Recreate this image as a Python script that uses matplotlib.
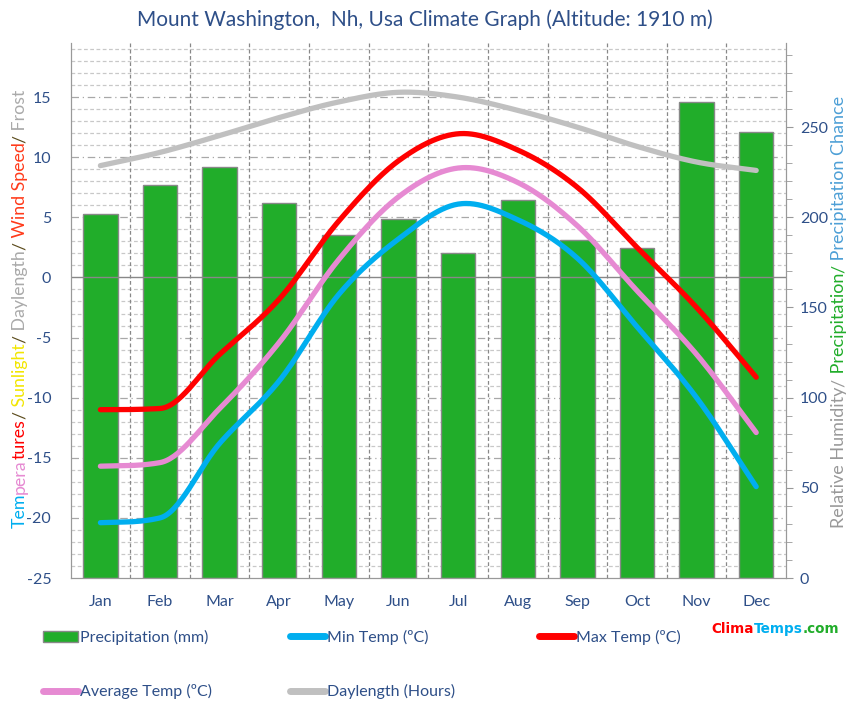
import numpy as np
import matplotlib
matplotlib.use("Agg")
import matplotlib.pyplot as plt
from matplotlib.lines import Line2D
from matplotlib.patches import Patch
from matplotlib.transforms import IdentityTransform

plt.rcParams['font.family'] = ['Lato', 'DejaVu Sans']

months = ["Jan", "Feb", "Mar", "Apr", "May", "Jun", "Jul", "Aug", "Sep", "Oct", "Nov", "Dec"]
precip_mm = [201.6, 217.8, 227.7, 207.7, 190.3, 198.8, 180.0, 209.5, 187.7, 182.8, 263.7, 247.1]
min_temp = [-20.4, -20.0, -13.8, -8.6, -1.4, 3.2, 6.1, 4.8, 1.6, -4.1, -10.0, -17.4]
max_temp = [-11.0, -10.9, -6.4, -1.8, 4.7, 9.7, 11.95, 10.6, 7.5, 2.5, -2.5, -8.3]
avg_temp = [-15.7, -15.4, -10.9, -5.4, 1.5, 6.7, 9.1, 7.9, 4.3, -1.1, -6.4, -12.9]
daylength = [9.3, 10.4, 11.8, 13.3, 14.6, 15.4, 15.0, 13.9, 12.5, 10.9, 9.6, 8.9]

TXT = "#2E4F88"
title = "Mount Washington,  Nh, Usa Climate Graph (Altitude: 1910 m)"

LEFT_MIN, LEFT_MAX = -25, 19.5
RATIO = 20 / 3  # right units per left unit


def to_right(v):
    return (v - LEFT_MIN) * RATIO


def smooth(y, n=30):
    """Cubic Hermite through the points: Catmull-Rom tangents, limited on monotone segments."""
    y = np.asarray(y, float)
    d = np.diff(y)
    m = np.zeros_like(y)
    m[0], m[-1] = d[0], d[-1]
    m[1:-1] = (y[2:] - y[:-2]) / 2.0
    for k in range(len(d)):
        if d[k] == 0:
            m[k] = m[k + 1] = 0.0
            continue
        a, b = m[k] / d[k], m[k + 1] / d[k]
        if a >= 0 and b >= 0 and a * a + b * b > 9:
            tau = 3.0 / np.hypot(a, b)
            m[k], m[k + 1] = tau * a * d[k], tau * b * d[k]
    xs, ys = [], []
    t = np.linspace(0, 1, n, endpoint=False)
    h00 = 2 * t ** 3 - 3 * t ** 2 + 1
    h10 = t ** 3 - 2 * t ** 2 + t
    h01 = -2 * t ** 3 + 3 * t ** 2
    h11 = t ** 3 - t ** 2
    for i in range(len(y) - 1):
        ys.append(h00 * y[i] + h10 * m[i] + h01 * y[i + 1] + h11 * m[i + 1])
        xs.append(i + t)
    xs.append([len(y) - 1])
    ys.append([y[-1]])
    return np.concatenate(xs), np.concatenate(ys)


fig = plt.figure(figsize=(8.51, 7.19), dpi=100)
W, H = 851, 719
ax2 = fig.add_axes([70.6 / W, 1 - 578 / H, (786 - 70.6) / W, (578 - 43) / H])
ax = ax2.twinx()  # left-scale axis drawn on top
ax.yaxis.tick_left()
ax.yaxis.set_label_position("left")
ax2.yaxis.tick_right()

x = np.arange(12)
ax.set_xlim(-0.5, 11.5)
ax2.set_xlim(-0.5, 11.5)
ax.set_ylim(LEFT_MIN, LEFT_MAX)
ax2.set_ylim(0, to_right(LEFT_MAX))

# grid (behind bars, on the bar axis, positioned on the left scale)
for v in np.arange(-24, 20, 1):
    if v % 5 == 0:
        continue
    ax2.axhline(to_right(v), color="#C8C8C8", lw=0.9, ls=(0, (3, 2)), zorder=0)
for v in np.arange(-20, 20, 5):
    if v == 0:
        continue
    ax2.axhline(to_right(v), color="#A8A8A8", lw=0.9, ls=(0, (6, 3, 1, 3)), zorder=0)
for b in np.arange(0.5, 11.5, 1):
    ax2.axvline(b, color="#888888", lw=0.9, ls=(0, (3, 2)), zorder=0)

# bars on right axis
ax2.bar(x, precip_mm, width=0.576, color="#21AD2A", edgecolor="#888888", lw=1.0, zorder=2)

ax.axhline(0, color="#888888", lw=1.0, zorder=1)

for data, col in [(daylength, "#C0C0C0"), (min_temp, "#00AEEF"), (avg_temp, "#E68AD2"), (max_temp, "#FF0000")]:
    sx, sy = smooth(data)
    ax.plot(sx, sy, color=col, lw=3.8, solid_capstyle="round", zorder=3)

# axes styling
for a in (ax, ax2):
    a.spines["top"].set_visible(False)
    for s in ("left", "right", "bottom"):
        a.spines[s].set_color("#999999")
ax2.set_xticks(x)
ax2.set_xticklabels(months, color=TXT, fontsize=11.5)
ax2.tick_params(axis="x", length=0, pad=12)
ax.set_yticks(np.arange(-25, 20, 5))
ax.set_yticklabels([str(v) for v in range(-25, 20, 5)], color=TXT, fontsize=11.5)
ax.tick_params(axis="y", length=0, pad=14)
ax2.set_yticks(np.arange(0, 300, 50))
ax2.set_yticks(np.arange(0, 300, 10), minor=True)
ax2.set_yticklabels([str(v) for v in range(0, 300, 50)], color=TXT, fontsize=11.5)
ax2.tick_params(axis="y", which="major", length=5, color="#999999", pad=5)
ax2.tick_params(axis="y", which="minor", length=4, color="#999999")

fig.text(425 / W, 1 - 20 / H, title, ha="center", va="center", color=TXT, fontsize=15)

# multicolour axis labels
fig.canvas.draw()
renderer = fig.canvas.get_renderer()


def colored_vlabel(pieces, xpix, ybot, ytop, size):
    arts = []
    for txt, col in pieces:
        t = fig.text(0, 0, txt, color=col, fontsize=size, rotation=90,
                     ha="center", va="bottom", transform=IdentityTransform())
        arts.append(t)
    hs = [t.get_window_extent(renderer).height for t in arts]
    scale = (ytop - ybot) / sum(hs)
    for t in arts:
        t.set_fontsize(size * scale)
    fig.canvas.draw()
    hs = [t.get_window_extent(renderer).height for t in arts]
    y = ybot
    for t, h in zip(arts, hs):
        t.set_position((xpix, y))
        y += h


SL = "#5A4A1A"
colored_vlabel([("Tem", "#00AEEF"), ("pera", "#E68AD2"), ("tures", "#FF0000"), ("/", SL),
                (" Sunlight", "#F2E600"), ("/", SL), (" Daylength", "#AAAAAA"), ("/", SL),
                (" Wind Speed", "#FF3A1A"), ("/", SL), (" Frost", "#AAAAAA")],
               20, H - 528, H - 88, 11.5)
colored_vlabel([("Relative Humidity", "#999999"), ("/", "#999999"), (" Precipitation", "#21AD2A"),
                ("/", "#21AD2A"), (" Precipitation Chance", "#4D9FD6")],
               839, H - 528, H - 95, 11.5)


# legends
def mk_line(c):
    return Line2D([], [], color=c, lw=5, solid_capstyle="round")


leg_kw = dict(frameon=False, fontsize=11.5, labelcolor=TXT, handlelength=2.2, handletextpad=0.1,
              labelspacing=2.45, borderaxespad=0, borderpad=0)
fig.legend([Patch(facecolor="#21AD2A", edgecolor="#888888"), mk_line("#E68AD2")],
           ["Precipitation (mm)", "Average Temp (ºC)"], loc="upper left",
           bbox_to_anchor=(43 / W, 1 - 630 / H), handleheight=0.7, **leg_kw)
fig.legend([mk_line("#00AEEF"), mk_line("#C0C0C0")],
           ["Min Temp (ºC)", "Daylength (Hours)"], loc="upper left",
           bbox_to_anchor=(290 / W, 1 - 630 / H), **leg_kw)
fig.legend([mk_line("#FF0000")], ["Max Temp (ºC)"], loc="upper left",
           bbox_to_anchor=(539 / W, 1 - 630 / H), **leg_kw)

# logo
fig.canvas.draw()
parts = [("Clima", "#FF0000"), ("Temps", "#00AEEF"), (".com", "#21AD2A")]
arts = []
for txt, col in parts:
    t = fig.text(0, H - 629, txt, color=col, fontsize=10, fontweight="bold", ha="left", va="center",
                 transform=IdentityTransform(), family="DejaVu Sans")
    arts.append(t)
tot = sum(t.get_window_extent(renderer).width for t in arts)
sc = 127 / tot
for t in arts:
    t.set_fontsize(10 * sc)
fig.canvas.draw()
lx = 711
for t in arts:
    t.set_position((lx, H - 629))
    lx += t.get_window_extent(renderer).width

fig.savefig("out.png", dpi=100)
